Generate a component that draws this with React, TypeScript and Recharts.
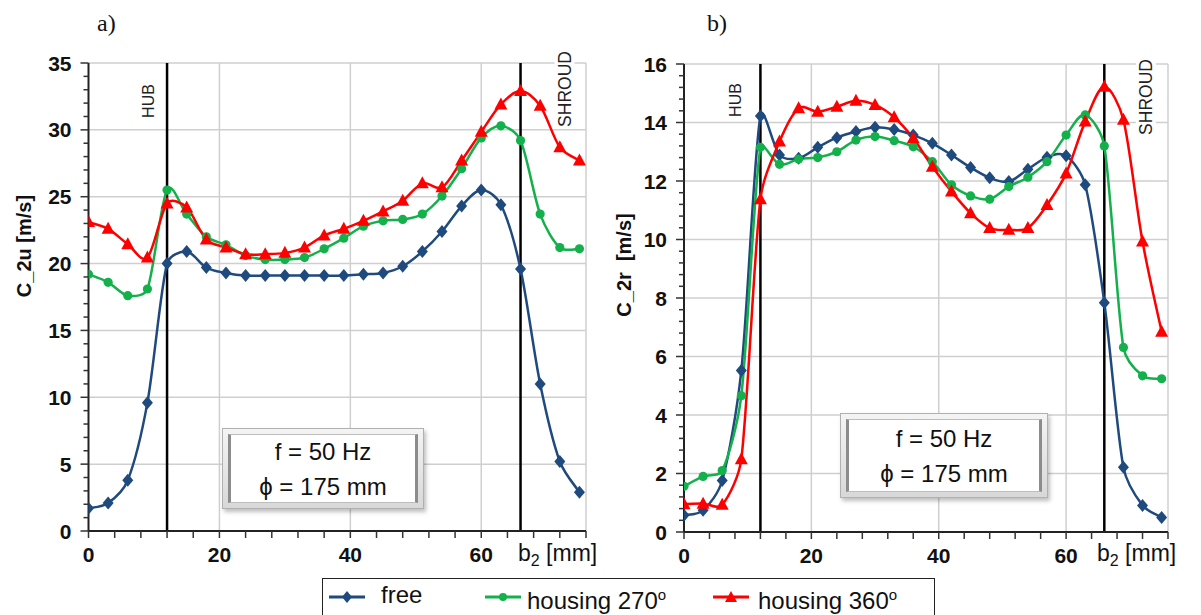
import React from "react"
import { LineChart, Line, XAxis, YAxis, CartesianGrid, ReferenceLine } from "recharts"

// measuring positions across the blade width b2 [mm]
const positions = [0, 3, 6, 9, 12, 15, 18, 21, 24, 27, 30, 33, 36, 39, 42, 45, 48, 51, 54, 57, 60, 63, 66, 69, 72, 75]

// a) circumferential velocity C_2u [m/s]
const c2uFree = [1.7, 2.1, 3.8, 9.6, 20.0, 20.9, 19.7, 19.3, 19.1, 19.1, 19.1, 19.1, 19.1, 19.1, 19.2, 19.3, 19.8, 20.9, 22.4, 24.3, 25.5, 24.4, 19.6, 11.0, 5.2, 2.9]
const c2uH270 = [19.2, 18.6, 17.6, 18.1, 25.5, 23.7, 22.0, 21.4, 20.6, 20.3, 20.3, 20.45, 21.1, 21.9, 22.8, 23.2, 23.3, 23.7, 25.05, 27.1, 29.4, 30.3, 29.2, 23.7, 21.2, 21.1]
const c2uH360 = [23.1, 22.6, 21.45, 20.45, 24.5, 24.2, 21.8, 21.2, 20.7, 20.7, 20.8, 21.2, 22.1, 22.6, 23.2, 23.9, 24.7, 26.0, 25.7, 27.7, 29.85, 31.9, 32.9, 31.8, 28.7, 27.7]

// b) radial velocity C_2r [m/s]
const c2rFree = [0.57, 0.74, 1.76, 5.52, 14.22, 12.89, 12.78, 13.15, 13.48, 13.69, 13.84, 13.76, 13.57, 13.29, 12.89, 12.46, 12.11, 11.98, 12.4, 12.81, 12.86, 11.87, 7.84, 2.21, 0.91, 0.5]
const c2rH270 = [1.56, 1.9, 2.1, 4.66, 13.15, 12.57, 12.75, 12.8, 13.0, 13.4, 13.52, 13.38, 13.17, 12.66, 11.87, 11.49, 11.38, 11.81, 12.13, 12.66, 13.57, 14.26, 13.2, 6.31, 5.34, 5.24]
const c2rH360 = [0.95, 0.97, 0.93, 2.49, 11.38, 13.35, 14.49, 14.37, 14.54, 14.74, 14.6, 14.18, 13.46, 12.49, 11.64, 10.9, 10.39, 10.33, 10.39, 11.18, 12.26, 14.03, 15.22, 14.09, 9.93, 6.85]

const xMax = 76
const xMajor = [0, 20, 40, 60]
const hubX = 12
const shroudX = 66
const c2uTicks = [0, 5, 10, 15, 20, 25, 30, 35]
const c2rTicks = [0, 2, 4, 6, 8, 10, 12, 14, 16]

const BLUE = "#1f4a7e"
const GREEN = "#13b04b"
const RED = "#ff0000"
const FONT = '"Liberation Sans", Arial, sans-serif'

const rowsA = positions.map((x, i) => ({ x, free: c2uFree[i], h270: c2uH270[i], h360: c2uH360[i] }))
const rowsB = positions.map((x, i) => ({ x, free: c2rFree[i], h270: c2rH270[i], h360: c2rH360[i] }))

// Excel-like smoothed line: Catmull-Rom bezier, handles capped by segment length
const excelSmooth: any = (context: any) => {
  let pts: number[][] = []
  const handle = (a: number[], b: number[], segLen: number) => {
    let dx = (b[0] - a[0]) / 6
    let dy = (b[1] - a[1]) / 6
    const len = Math.hypot(dx, dy)
    const cap = segLen * 0.36
    if (len > cap && len > 0) {
      dx = (dx * cap) / len
      dy = (dy * cap) / len
    }
    return [dx, dy]
  }
  return {
    areaStart() {},
    areaEnd() {},
    lineStart() { pts = [] },
    point(x: number, y: number) { pts.push([+x, +y]) },
    lineEnd() {
      if (!pts.length) return
      context.moveTo(pts[0][0], pts[0][1])
      for (let i = 0; i < pts.length - 1; i++) {
        const p0 = pts[i - 1] || pts[i]
        const p1 = pts[i]
        const p2 = pts[i + 1]
        const p3 = pts[i + 2] || p2
        const seg = Math.hypot(p2[0] - p1[0], p2[1] - p1[1])
        const t1 = handle(p0, p2, seg)
        const t2 = handle(p1, p3, seg)
        context.bezierCurveTo(p1[0] + t1[0], p1[1] + t1[1], p2[0] - t2[0], p2[1] - t2[1], p2[0], p2[1])
      }
    },
  }
}

const Diamond = (p: any) => {
  const { cx, cy } = p
  if (cx == null || cy == null) return <g key={p.index} />
  return <polygon key={`d${p.index}`} points={`${cx},${cy - 6.5} ${cx + 5.5},${cy} ${cx},${cy + 6.5} ${cx - 5.5},${cy}`} fill={BLUE} />
}
const Circle = (p: any) => {
  const { cx, cy } = p
  if (cx == null || cy == null) return <g key={p.index} />
  return <circle key={`c${p.index}`} cx={cx} cy={cy} r={4.6} fill={GREEN} />
}
const Triangle = (p: any) => {
  const { cx, cy } = p
  if (cx == null || cy == null) return <g key={p.index} />
  return <polygon key={`t${p.index}`} points={`${cx},${cy - 7} ${cx + 6.5},${cy + 5} ${cx - 6.5},${cy + 5}`} fill={RED} />
}

const makeYTick = (major: number[]) => (props: any) => {
  const { x, y, payload } = props
  const v = payload.value
  const isMajor = major.some((m) => Math.abs(m - v) < 1e-6)
  return (
    <g>
      <line x1={x - (isMajor ? 8 : 5)} x2={x} y1={y} y2={y} stroke="#333" strokeWidth={1.5} />
      {isMajor && (
        <text x={x - 17} y={y} dy="0.36em" textAnchor="end" fontSize={21} fontWeight="bold" fill="#111" fontFamily={FONT}>
          {v}
        </text>
      )}
    </g>
  )
}

const XTick = (props: any) => {
  const { x, y, payload } = props
  const v = payload.value
  const isMajor = xMajor.includes(v)
  return (
    <g>
      <line x1={x} x2={x} y1={y} y2={y + 7} stroke="#333" strokeWidth={1.5} />
      {isMajor && (
        <text x={x} y={y + 31} textAnchor="middle" fontSize={21} fontWeight="bold" fill="#111" fontFamily={FONT}>
          {v}
        </text>
      )}
    </g>
  )
}

const minorSteps = (max: number, step: number) => {
  const out: number[] = []
  for (let v = 0; v <= max + 1e-9; v += step) out.push(Math.round(v * 100) / 100)
  return out
}

type PanelProps = {
  rows: any[]
  width: number
  margin: { top: number; right: number; bottom: number; left: number }
  yAxisWidth: number
  yMax: number
  yMajor: number[]
  yMinorStep: number
  hubDx: number
  hubDy: number
  shroudDx: number
  shroudDy: number
}

function Panel({ rows, width, margin, yAxisWidth, yMax, yMajor, yMinorStep, hubDx, hubDy, shroudDx, shroudDy }: PanelProps) {
  const hubLabel = (props: any) => {
    const vb = props.viewBox || {}
    const cx = vb.x + hubDx
    const cy = vb.y + hubDy
    return (
      <text x={cx} y={cy} dy="0.35em" textAnchor="middle" fontSize={16} fill="#222" fontFamily={FONT} transform={`rotate(-90 ${cx} ${cy})`}>
        HUB
      </text>
    )
  }
  const shroudLabel = (props: any) => {
    const vb = props.viewBox || {}
    const cx = vb.x + shroudDx
    const cy = vb.y + shroudDy
    return (
      <g>
        <rect x={cx - 10} y={cy - 40} width={20} height={80} fill="#fff" />
        <text x={cx} y={cy} dy="0.35em" textAnchor="middle" fontSize={17.5} fill="#222" fontFamily={FONT} transform={`rotate(-90 ${cx} ${cy})`}>
          SHROUD
        </text>
      </g>
    )
  }
  return (
    <LineChart width={width} height={615} data={rows} margin={margin}>
      <CartesianGrid stroke="#cfcfcf" strokeWidth={1.5} horizontalValues={yMajor} verticalValues={[20, 40, 60, xMax]} />
      <XAxis
        type="number"
        dataKey="x"
        domain={[0, xMax]}
        ticks={minorSteps(xMax, 4)}
        interval={0}
        allowDataOverflow
        height={30}
        tickSize={0}
        tickMargin={0}
        tickLine={false}
        tick={XTick}
        axisLine={{ stroke: "#222", strokeWidth: 2 }}
      />
      <YAxis
        type="number"
        domain={[0, yMax]}
        ticks={minorSteps(yMax, yMinorStep)}
        interval={0}
        allowDataOverflow
        width={yAxisWidth}
        tickSize={0}
        tickMargin={0}
        tickLine={false}
        tick={makeYTick(yMajor)}
        axisLine={{ stroke: "#222", strokeWidth: 2 }}
      />
      <ReferenceLine x={hubX} stroke="#000" strokeWidth={2.5} label={hubLabel} />
      <ReferenceLine x={shroudX} stroke="#000" strokeWidth={2.5} label={shroudLabel} />
      <Line type={excelSmooth} dataKey="free" stroke={BLUE} strokeWidth={2.5} dot={Diamond} activeDot={false} isAnimationActive={false} />
      <Line type={excelSmooth} dataKey="h270" stroke={GREEN} strokeWidth={2.5} dot={Circle} activeDot={false} isAnimationActive={false} />
      <Line type={excelSmooth} dataKey="h360" stroke={RED} strokeWidth={2.5} dot={Triangle} activeDot={false} isAnimationActive={false} />
    </LineChart>
  )
}

const InfoBox = ({ left, top, width, height }: { left: number; top: number; width: number; height: number }) => (
  <div
    style={{
      position: "absolute",
      left,
      top,
      width,
      height,
      boxSizing: "border-box",
      border: "1px solid #b0b0b0",
      background: "linear-gradient(#f4f4f4, #d8d8d8)",
      padding: 5,
      boxShadow: "2px 3px 4px rgba(0,0,0,0.25)",
    }}
  >
    <div
      style={{
        width: "100%",
        height: "100%",
        boxSizing: "border-box",
        background: "#fff",
        borderLeft: "3px solid #8c8c8c",
        borderRight: "3px solid #8c8c8c",
        borderTop: "1px solid #bdbdbd",
        borderBottom: "1px solid #bdbdbd",
        display: "flex",
        flexDirection: "column",
        justifyContent: "center",
        alignItems: "center",
        fontFamily: FONT,
        fontSize: 24,
        lineHeight: "35px",
        color: "#111",
      }}
    >
      <div>f = 50 Hz</div>
      <div>ϕ = 175 mm</div>
    </div>
  </div>
)

const LegendIcon = ({ color, kind }: { color: string; kind: string }) => (
  <svg width={38} height={16} style={{ display: "block" }}>
    <line x1={1} x2={37} y1={8} y2={8} stroke={color} strokeWidth={3} />
    {kind === "d" && <polygon points="19,2 24,8 19,14 14,8" fill={color} />}
    {kind === "c" && <circle cx={19} cy={8} r={4} fill={color} />}
    {kind === "t" && <polygon points="19,2 25,13 13,13" fill={color} />}
  </svg>
)

const legendText = { position: "absolute" as const, top: 1, lineHeight: "30px", whiteSpace: "nowrap" as const }

export default function App() {
  return (
    <div style={{ position: "absolute", left: 0, top: 0, width: 1201, height: 615, overflow: "hidden", background: "#fff" }}>
      <div style={{ position: "absolute", left: 0, top: 0 }}>
        <Panel
          rows={rowsA}
          width={600}
          margin={{ top: 63, right: 14, bottom: 54, left: 0 }}
          yAxisWidth={88.5}
          yMax={35}
          yMajor={c2uTicks}
          yMinorStep={1}
          hubDx={-18.5}
          hubDy={38}
          shroudDx={44}
          shroudDy={26}
        />
      </div>
      <div style={{ position: "absolute", left: 600, top: 0 }}>
        <Panel
          rows={rowsB}
          width={601}
          margin={{ top: 64, right: 33, bottom: 53, left: 0 }}
          yAxisWidth={84}
          yMax={16}
          yMajor={c2rTicks}
          yMinorStep={0.4}
          hubDx={-25}
          hubDy={36}
          shroudDx={41.5}
          shroudDy={33}
        />
      </div>

      <svg width={1201} height={615} style={{ position: "absolute", left: 0, top: 0, pointerEvents: "none" }}>
        <text x={97} y={31} fontSize={24} fontFamily='"Liberation Serif", "Times New Roman", serif' fill="#111">a)</text>
        <text x={707} y={31} fontSize={24} fontFamily='"Liberation Serif", "Times New Roman", serif' fill="#111">b)</text>
        <text x={24} y={246} dy="0.35em" textAnchor="middle" fontSize={20} fontWeight="bold" fontFamily={FONT} fill="#111" transform="rotate(-90 24 246)">
          C_2u [m/s]
        </text>
        <text x={624} y={265} dy="0.35em" textAnchor="middle" fontSize={20} fontWeight="bold" fontFamily={FONT} fill="#111" transform="rotate(-90 624 265)" style={{ whiteSpace: "pre" }}>
          {"C_2r  [m/s]"}
        </text>
        <text x={518} y={561} fontSize={23} fontFamily={FONT} fill="#111">
          b<tspan fontSize={16} dy={5}>2</tspan><tspan dy={-5}> [mm]</tspan>
        </text>
        <text x={1097} y={561} fontSize={23} fontFamily={FONT} fill="#111">
          b<tspan fontSize={16} dy={5}>2</tspan><tspan dy={-5}> [mm]</tspan>
        </text>
      </svg>

      <InfoBox left={222} top={428} width={202} height={81} />
      <InfoBox left={840} top={413} width={208} height={85} />

      <div
        style={{
          position: "absolute",
          left: 322,
          top: 578,
          width: 613,
          height: 50,
          boxSizing: "border-box",
          border: "1.5px solid #222",
          background: "#fff",
          fontFamily: FONT,
          fontSize: 24,
          color: "#111",
        }}
      >
        <div style={{ position: "absolute", left: 5, top: 10 }}><LegendIcon color={BLUE} kind="d" /></div>
        <div style={{ ...legendText, left: 58 }}>free</div>
        <div style={{ position: "absolute", left: 161, top: 10 }}><LegendIcon color={GREEN} kind="c" /></div>
        <div style={{ ...legendText, left: 204 }}>housing 270<sup style={{ fontSize: 15 }}>o</sup></div>
        <div style={{ position: "absolute", left: 389, top: 10 }}><LegendIcon color={RED} kind="t" /></div>
        <div style={{ ...legendText, left: 435 }}>housing 360<sup style={{ fontSize: 15 }}>o</sup></div>
      </div>
    </div>
  )
}
